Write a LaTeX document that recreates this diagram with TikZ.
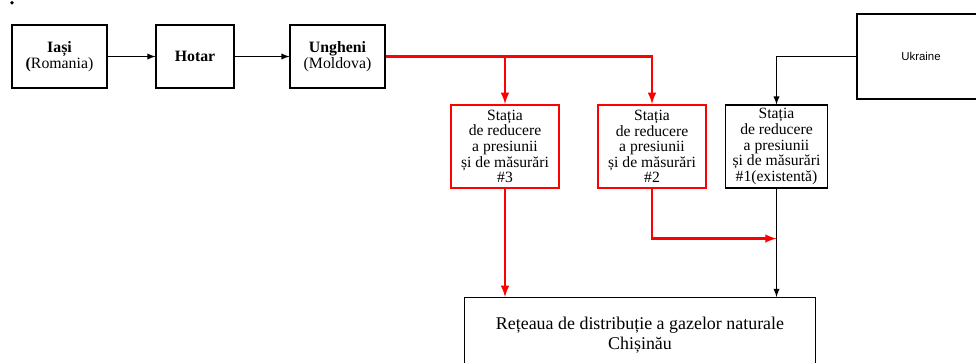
\documentclass[tikz,border=0pt]{standalone}
\usepackage{fontspec}
\setmainfont{Liberation Serif}
\newfontfamily\uafont{Liberation Sans}
\usetikzlibrary{calc}
\tikzset{
  site/.style={
    rectangle,
    draw=black, line width=0.6pt,
    minimum height=1.26cm,
    align=center, inner sep=0pt,
    font=\fontsize{9}{9.4}\selectfont},
  station/.style={
    rectangle,
    draw=black, line width=0.6pt,
    minimum height=1.66cm,
    align=center, inner sep=0pt,
    font=\fontsize{8.9}{8.9}\selectfont},
  newstation/.style={station, draw=red, line width=1.2pt},
  pipe/.style={->, draw=red, line width=1.2pt},
  feed/.style={->, draw=black, line width=0.6pt},
}
\tikzset{>=latex}

\begin{document}
\begin{tikzpicture}
\clip (0,0) rectangle (19.52,-7.24);

\node[circle, fill, inner sep=0pt, minimum size=2.2pt] at (0.24,-0.055) (dot) {};

\node[site, minimum width=1.90cm] at (1.19,-1.13) (iasi)   {\textbf{Iași}\\\textbf{(}Romania)};
\node[site, minimum width=1.56cm] at (3.90,-1.13) (hotar)  {\textbf{Hotar}};
\node[site, minimum width=1.90cm] at (6.75,-1.13) (ung)    {\textbf{Ungheni}\\(Moldova)};

\node[site, minimum width=2.56cm, minimum height=1.70cm, font=\uafont\fontsize{6.5}{7}\selectfont]
      at (18.42,-1.13) (ukr) {Ukraine};

\node[newstation, minimum width=2.16cm] at (10.10,-2.93) (st3) {Stația\\ de reducere\\ a presiunii\\ și de măsurări\\ \#3};
\node[newstation, minimum width=2.16cm] at (13.04,-2.93) (st2) {Stația\\ de reducere\\ a presiunii\\ și de măsurări\\ \#2};
\node[station, minimum width=2.05cm] at (15.53,-2.93) (st1) {Stația\\ de reducere\\ a presiunii\\ și de măsurări\\ \#1(existentă)};

\node[site, minimum width=7.02cm, minimum height=1.50cm, font=\fontsize{10.2}{11.3}\selectfont]
      at (12.80,-6.70) (net) {Rețeaua de distribuție a gazelor naturale\\ Chișinău};

\coordinate (tee3) at (st3.north |- ung.east);
\coordinate (join) at ($(st1.south)+(0,-1)$);

\draw[feed] (iasi) -- (hotar);
\draw[feed] (hotar) -- (ung);

\draw[pipe] (ung.east) -| (st2.north);
\draw[pipe] (tee3) -- (st3.north);
\draw[pipe] (st3.south) -- (st3.south |- net.north);
\draw[pipe] (st2.south) |- (join);

\draw[feed] (ukr.west) -| (st1.north);
\draw[feed] (st1.south) -- (st1.south |- net.north);
\end{tikzpicture}
\end{document}
